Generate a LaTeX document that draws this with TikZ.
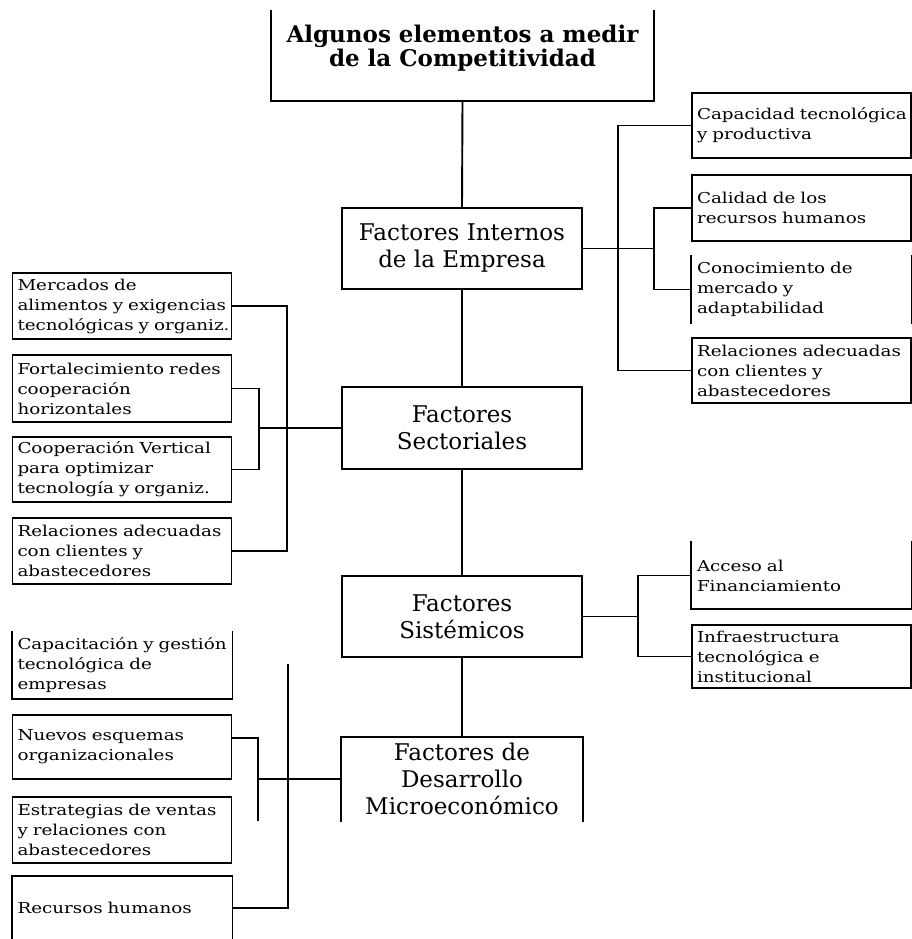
\documentclass[tikz,border=0pt]{standalone}
\usepackage{fontspec}
\setmainfont{DejaVu Serif}
\newfontfamily\sidefont{DejaVu Serif}[FakeStretch=1.22]
\newcommand\oneline[1]{\mbox{#1}}
\usetikzlibrary{calc}
\begin{document}
\begin{tikzpicture}[x=1pt,y=-1pt,
  line width=1.9pt, line cap=rect,
  mainbox/.style={minimum width=240pt, align=center, inner sep=0pt,
    font=\fontsize{23}{27}\selectfont},
  sidebox/.style={minimum width=219pt, text width=209pt, align=left,
    inner xsep=5pt, inner ysep=0pt, font=\sidefont\fontsize{15}{20}\selectfont},
  conn/.style={line width=1.9pt}]
\useasboundingbox (0,0) rectangle (912,939);

% central column
\node[minimum width=381pt, minimum height=88pt, inner sep=0pt] (title) at (462.5,56) {};
\draw (title.north west) -- (title.south west) -- (title.south east) -- (title.north east);
\node[align=center, inner sep=0pt, font=\fontsize{23}{24}\selectfont\bfseries]
  (titletext) at (462.5,48) {Algunos elementos a medir\\de la Competitividad};

\node[mainbox, draw, minimum height=81pt] (internos) at (462,248.5)
  {Factores Internos\\de la Empresa};
\node[mainbox, draw, minimum height=82pt] (sectoriales) at (462,428)
  {Factores\\Sectoriales};
\node[mainbox, draw, minimum height=81pt] (sistemicos) at (462,616.5)
  {Factores\\Sistémicos};
\node[mainbox, minimum height=82pt] (desarrollo) at (462,779)
  {Factores de\\Desarrollo\\Microeconómico};
\draw (desarrollo.south west) -- (desarrollo.north west) -- (desarrollo.north east) -- (desarrollo.south east);

\draw[conn] (title.south) -- (internos.north);
\draw[conn] (internos.south) -- (sectoriales.north);
\draw[conn] (sectoriales.south) -- (sistemicos.north);
\draw[conn] (sistemicos.south) -- (desarrollo.north);

% internal factors of the firm
\node[sidebox, draw, minimum height=65pt] (r1) at (801.5,125.5)
  {\oneline{Capacidad tecnológica}\\\oneline{y productiva}};
\node[sidebox, draw, minimum height=66pt] (r2) at (801.5,208)
  {\oneline{Calidad de los}\\\oneline{recursos humanos}};
\node[sidebox, minimum height=65pt] (r3) at (801.5,289.5)
  {\oneline{Conocimiento de}\\\oneline{mercado y}\\\oneline{adaptabilidad}};
\draw (r3.north west) -- (r3.south west);
\draw (r3.north east) -- (r3.south east);
\node[sidebox, draw, minimum height=65pt] (r4) at (801.5,370.5)
  {\oneline{Relaciones adecuadas}\\\oneline{con clientes y}\\\oneline{abastecedores}};
\coordinate (rs1) at (618,0);
\coordinate (rs2) at (654,0);
\draw[conn] (r1.west) -- (r1.west -| rs1) -- (r4.west -| rs1) -- (r4.west);
\draw[conn] (r2.west) -- (r2.west -| rs2) -- (r3.west -| rs2) -- (r3.west);
\draw[conn] (internos.east) -- (internos.east -| rs2);

% sector factors
\node[sidebox, draw, minimum height=66pt] (l1) at (122,306)
  {\oneline{Mercados de}\\\oneline{alimentos y exigencias}\\\oneline{tecnológicas y organiz.}};
\node[sidebox, draw, minimum height=67pt] (l2) at (122,388.5)
  {\oneline{Fortalecimiento redes}\\\oneline{cooperación}\\\oneline{horizontales}};
\node[sidebox, draw, minimum height=65pt] (l3) at (122,469.5)
  {\oneline{Cooperación Vertical}\\\oneline{para optimizar}\\\oneline{tecnología y organiz.}};
\node[sidebox, draw, minimum height=66pt] (l4) at (122,551)
  {\oneline{Relaciones adecuadas}\\\oneline{con clientes y}\\\oneline{abastecedores}};
\coordinate (ls1) at (287,0);
\coordinate (ls2) at (259,0);
\draw[conn] (l1.east) -- (l1.east -| ls1) -- (l4.east -| ls1) -- (l4.east);
\draw[conn] (l2.east) -- (l2.east -| ls2) -- (l3.east -| ls2) -- (l3.east);
\draw[conn] (sectoriales.west) -- (sectoriales.west -| ls2);

% systemic factors
\node[sidebox, minimum height=65pt] (a1) at (801.5,575.5)
  {\oneline{Acceso al}\\\oneline{Financiamiento}};
\draw (a1.north west) -- (a1.south west) -- (a1.south east) -- (a1.north east);
\node[sidebox, draw, minimum height=63pt] (a2) at (801.5,656.5)
  {\oneline{Infraestructura}\\\oneline{tecnológica e}\\\oneline{institucional}};
\coordinate (as) at (638,0);
\draw[conn] (a1.west) -- (a1.west -| as) -- (a2.west -| as) -- (a2.west);
\draw[conn] (sistemicos.east) -- (sistemicos.east -| as);

% microeconomic development factors
\node[sidebox, minimum height=65pt] (b1) at (122,665.5)
  {\oneline{Capacitación y gestión}\\\oneline{tecnológica de}\\\oneline{empresas}};
\draw (b1.north west) -- (b1.south west) -- (b1.south east) -- (b1.north east);
\node[sidebox, draw, minimum height=64pt] (b2) at (122,747)
  {\oneline{Nuevos esquemas}\\\oneline{organizacionales}};
\node[sidebox, draw, minimum height=66pt] (b3) at (122,830)
  {\oneline{Estrategias de ventas}\\\oneline{y relaciones con}\\\oneline{abastecedores}};
\node[sidebox, minimum height=62pt] (b4) at (122,908)
  {\oneline{Recursos humanos}};
\draw (b4.south west) -- (b4.north west) -- (b4.north east) -- (b4.south east);
\coordinate (bs1) at (288,665);
\coordinate (bs2a) at (258,738);
\coordinate (bs2b) at (258,820);
\draw[conn] (bs1) |- (b4.east);
\draw[conn] (b2.east |- bs2a) -- (bs2a) -- (bs2b);
\draw[conn] (desarrollo.west) -- (desarrollo.west -| bs2a);
\end{tikzpicture}
\end{document}
